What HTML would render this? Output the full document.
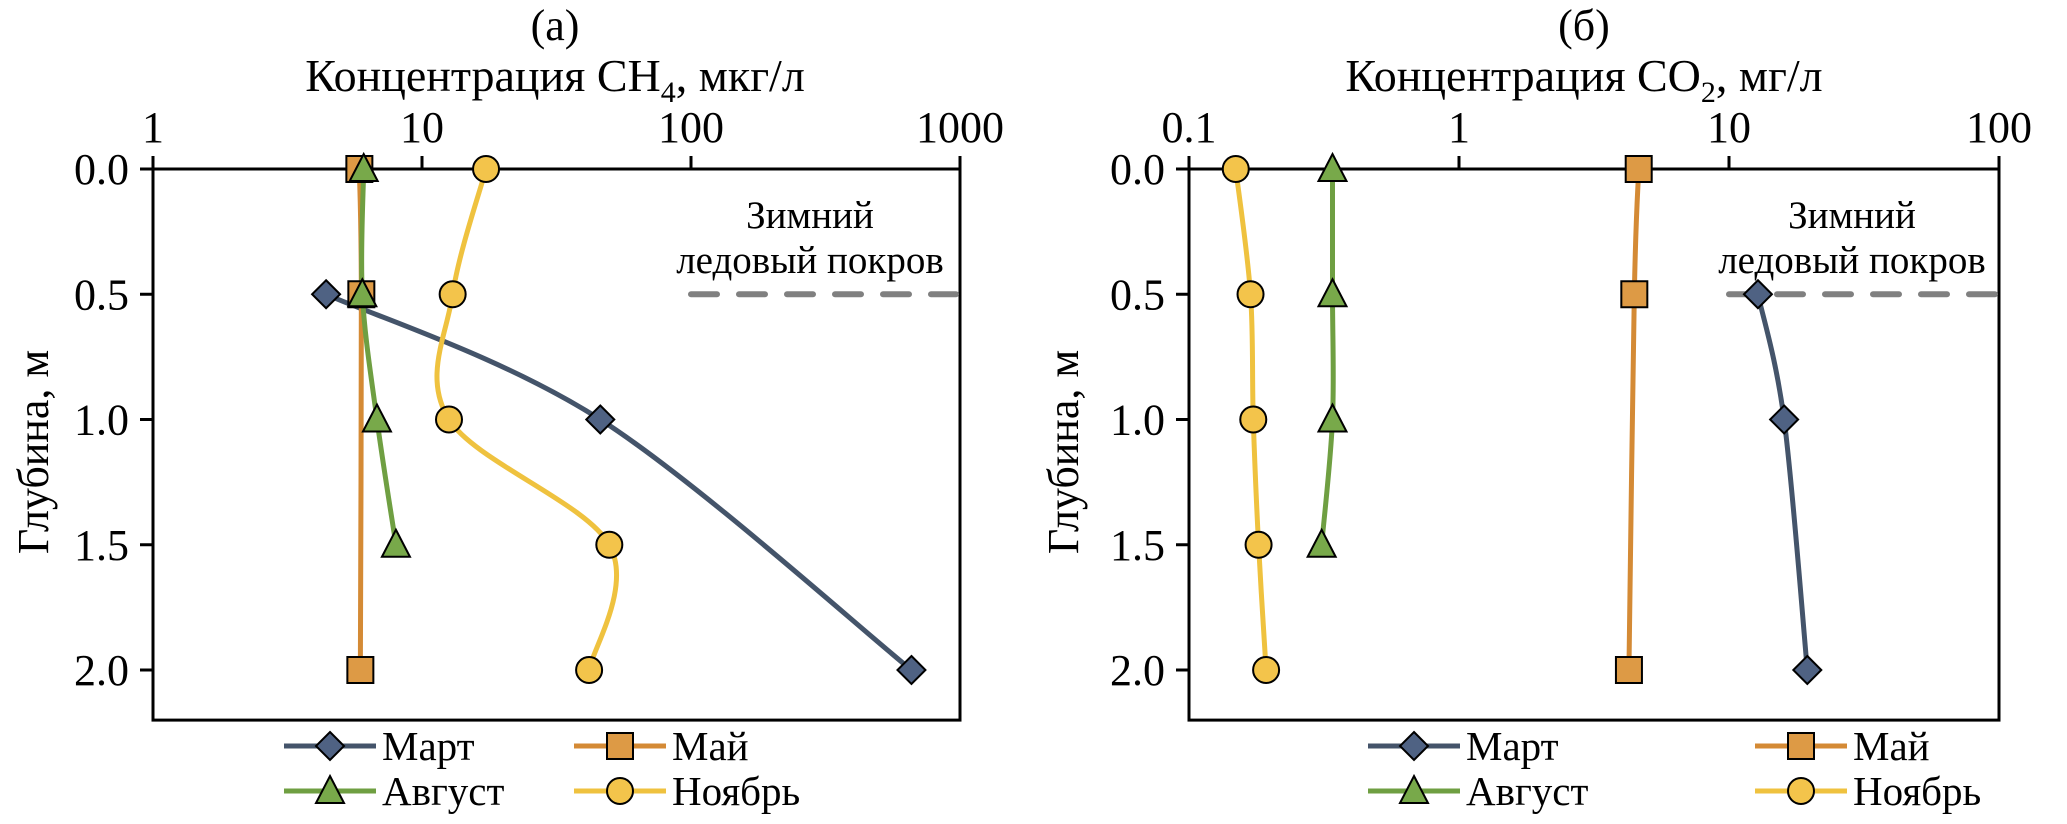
<!DOCTYPE html>
<html><head><meta charset="utf-8"><style>
html,body{margin:0;padding:0;background:#fff;}
svg{display:block;font-family:"Liberation Serif",serif;}
</style></head><body>
<svg id="svg" width="2067" height="824" xmlns="http://www.w3.org/2000/svg"></svg>
<script>
const depths = [0, 0.5, 1.0, 1.5, 2.0];
const depthTicks = ["0.0","0.5","1.0","1.5","2.0"];
const seriesNames = ["Март","Май","Август","Ноябрь"];
// Panel (a) CH4, мкг/л
const ch4Mart   = [null, 4.4, 46, null, 660];
const ch4May    = [5.85, 5.95, null, null, 5.9];
const ch4Avg    = [6.07, 6.0, 6.8, 8.0, null];
const ch4Noy    = [17.3, 13.0, 12.6, 49.7, 41.8];
const ch4Ticks  = ["1","10","100","1000"];
// Panel (б) CO2, мг/л
const co2Mart   = [null, 12.8, 16.0, null, 19.5];
const co2May    = [4.63, 4.46, null, null, 4.26];
const co2Avg    = [0.34, 0.34, 0.34, 0.31, null];
const co2Noy    = [0.149, 0.169, 0.173, 0.181, 0.193];
const co2Ticks  = ["0.1","1","10","100"];

const NS="http://www.w3.org/2000/svg";
const svg=document.getElementById('svg');
function mk(tag,attrs,parent){const e=document.createElementNS(NS,tag);for(const k in attrs)e.setAttribute(k,attrs[k]);(parent||svg).appendChild(e);return e;}

const colors={line:["#44546a","#d48a35","#6f9f42","#efc23f"],fill:["#4f6283","#dd9a45","#78a94a","#f3c44b"]};

function marker(g,type,x,y,i){
  const st={fill:colors.fill[i],stroke:"#000","stroke-width":2};
  let m;
  if(type===0){m=mk('polygon',Object.assign({points:`${x},${y-14} ${x+14},${y} ${x},${y+14} ${x-14},${y}`},st),g);}
  else if(type===1){m=mk('rect',Object.assign({x:x-13,y:y-13,width:26,height:26},st),g);}
  else if(type===2){m=mk('polygon',Object.assign({points:`${x},${y-15} ${x+14},${y+12} ${x-14},${y+12}`},st),g);}
  else {m=mk('circle',Object.assign({cx:x,cy:y,r:13},st),g);}
  
  
}

function smooth(pts){
  if(pts.length<2)return "";
  let d=`M${pts[0][0]},${pts[0][1]}`;
  for(let i=0;i<pts.length-1;i++){
    const p0=pts[i-1]||pts[i],p1=pts[i],p2=pts[i+1],p3=pts[i+2]||p2;
    const t=1/6;
    const c1=[p1[0]+(p2[0]-p0[0])*t,p1[1]+(p2[1]-p0[1])*t];
    const c2=[p2[0]-(p3[0]-p1[0])*t,p2[1]-(p3[1]-p1[1])*t];
    d+=` C${c1[0]},${c1[1]} ${c2[0]},${c2[1]} ${p2[0]},${p2[1]}`;
  }
  return d;
}

function panel(o){
  const g=mk('g',{});
  
  
  const L=o.left,R=o.left+o.decade*3,T=169,dpp=250.5;
  const B=T+2.2*dpp;
  const xs=v=>L+(Math.log10(v)-o.logMin)*o.decade;
  const ys=d=>T+d*dpp;
  let t;
  t=mk('text',{x:o.cx,y:40,'font-size':44,'text-anchor':'middle'},g);t.textContent=o.letter;
  
  t=mk('text',{x:o.cx,y:91,'font-size':46,'text-anchor':'middle'},g);
  t.innerHTML=o.title;
  
  const box=mk('rect',{x:L,y:T,width:R-L,height:B-T,fill:'none',stroke:'#000','stroke-width':3},g);
  
  o.ticks.forEach((lab,i)=>{
    const x=xs(Math.pow(10,o.logMin+i));
    const tk=mk('line',{x1:x,y1:T-13,x2:x,y2:T,stroke:'#000','stroke-width':3},g);
    
    const tl=mk('text',{x:x,y:142,'font-size':44,'text-anchor':'middle'},g);tl.textContent=lab;
    
  });
  depths.forEach((d,i)=>{
    const y=ys(d);
    const tk=mk('line',{x1:L-13,y1:y,x2:L,y2:y,stroke:'#000','stroke-width':3},g);
    
    const tl=mk('text',{x:L-24,y:y+15,'font-size':44,'text-anchor':'end'},g);tl.textContent=depthTicks[i];
    
  });
  t=mk('text',{x:0,y:0,'font-size':44,'text-anchor':'middle',transform:`translate(${o.ytx},452) rotate(-90)`},g);
  t.textContent="Глубина, м";
  
  const dash=mk('line',{x1:xs(Math.pow(10,o.logMin+2)),y1:ys(0.5),x2:R-4,y2:ys(0.5),stroke:'#808080','stroke-width':6,'stroke-dasharray':'26,22','stroke-linecap':'round'},g);
  
  t=mk('text',{x:o.annX,y:228,'font-size':39,'text-anchor':'middle'},g);t.textContent="Зимний";
  
  t=mk('text',{x:o.annX,y:273,'font-size':39,'text-anchor':'middle'},g);t.textContent="ледовый покров";
  
  const marks=[];
  o.series.forEach((s,i)=>{
    const pts=[];
    s.forEach((v,j)=>{if(v!==null)pts.push([xs(v),ys(depths[j])]);});
    const p=mk('path',{d:smooth(pts),fill:'none',stroke:colors.line[i],'stroke-width':5},g);
    
    
    marks.push(pts);
  });
  marks.forEach((pts,i)=>pts.forEach(p=>marker(g,i,p[0],p[1],i)));
  const lg=mk('g',{},g);
  
  const cols=[o.leg1,o.leg2], rows=[746,791];
  seriesNames.forEach((n,i)=>{
    const cx=cols[i%2], cy=rows[Math.floor(i/2)];
    const e=mk('g',{},lg);
    
    mk('line',{x1:cx,y1:cy,x2:cx+92,y2:cy,stroke:colors.line[i],'stroke-width':5},e);
    marker(e,i,cx+46,cy,i);
    const lt=mk('text',{x:cx+98,y:cy+14,'font-size':41},e);lt.textContent=n;
  });
}

panel({name:'ch4-panel',letter:'(a)',title:'Концентрация CH<tspan font-size="30" dy="11">4</tspan><tspan dy="-11">, мкг/л</tspan>',
  left:153,decade:269,logMin:0,cx:555,ytx:48,annX:810,leg1:284,leg2:574,ticks:ch4Ticks,
  series:[ch4Mart,ch4May,ch4Avg,ch4Noy]});
panel({name:'co2-panel',letter:'(б)',title:'Концентрация CO<tspan font-size="30" dy="11">2</tspan><tspan dy="-11">, мг/л</tspan>',
  left:1189,decade:270,logMin:-1,cx:1584,ytx:1078,annX:1852,leg1:1368,leg2:1755,ticks:co2Ticks,
  series:[co2Mart,co2May,co2Avg,co2Noy]});
</script>
</body></html>
